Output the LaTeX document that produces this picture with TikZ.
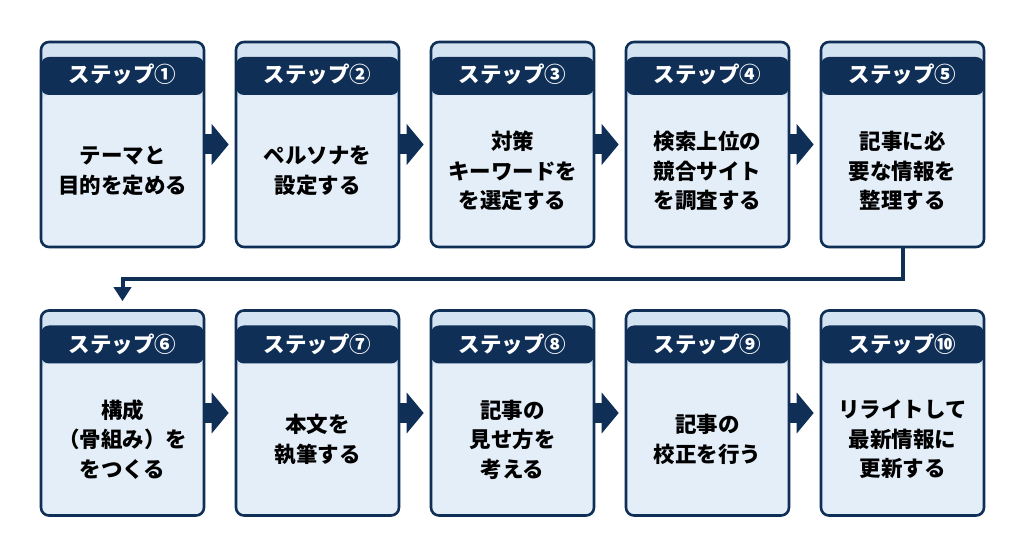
\documentclass[tikz,border=0pt]{standalone}
\usepackage{fontspec}
\newfontfamily\jpfont{Noto Sans CJK JP}
\usetikzlibrary{arrows.meta,positioning}
\definecolor{navy}{HTML}{0F2F57}
\definecolor{bodyblue}{HTML}{E4EEF8}
\definecolor{stripblue}{HTML}{D4E3F2}
\tikzset{
  stepbox/.style={draw=navy,line width=2.6pt,fill=stripblue,rounded corners=8pt,
    minimum width=163pt,minimum height=205pt,inner sep=0pt,
    path picture={
      \fill[bodyblue] (path picture bounding box.south west) rectangle ([yshift=-53pt]path picture bounding box.north east);
      \fill[navy] ([yshift=-15pt]path picture bounding box.north west) rectangle ([yshift=-53pt]path picture bounding box.north east);
    }},
  headtext/.style={text=white,inner sep=0pt,font=\jpfont\bfseries\fontsize{21.5}{24}\selectfont},
  steptext/.style={align=center,inner sep=0pt,text=black,font=\jpfont\bfseries\fontsize{21.5}{29.5}\selectfont},
  blockarr/.style={draw=navy,line width=20pt,-{Triangle[length=17pt,width=40pt]}},
  linkarr/.style={draw=navy,line width=4pt,-{Triangle[length=14pt,width=17pt]}}
}

\begin{document}
\begin{tikzpicture}[x=1pt,y=1pt]
\path[fill=white,use as bounding box] (0,0) rectangle (1024,559);
% upper row
\foreach \i/\num/\txt in {1/①/{テーマと\\目的を定める},2/②/{ペルソナを\\設定する},3/③/{対策\\キーワードを\\を選定する},4/④/{検索上位の\\競合サイト\\を調査する},5/⑤/{記事に必\\要な情報を\\整理する}}{
  \node[stepbox] (s\i) at ({122.5+195*(\i-1)},414.5) {};
  \node[headtext] (h\i) at ([yshift=-34pt]s\i.north) {ステップ\num};
  \node[steptext] (t\i) at ([yshift=-26.5pt]s\i.center) {\txt};
}
% lower row
\foreach \i/\num/\txt in {6/⑥/{構成\\（骨組み）を\\をつくる},7/⑦/{本文を\\執筆する},8/⑧/{記事の\\見せ方を\\考える},9/⑨/{記事の\\校正を行う},10/⑩/{リライトして\\最新情報に\\更新する}}{
  \node[stepbox] (s\i) at ({122.5+195*(\i-6)},146) {};
  \node[headtext] (h\i) at ([yshift=-35pt]s\i.north) {ステップ\num};
  \node[steptext] (t\i) at ([yshift=-26.5pt]s\i.center) {\txt};
}
\foreach \a/\b in {1/2,2/3,3/4,4/5,6/7,7/8,8/9,9/10}
  \draw[blockarr] (s\a.east) -- ([xshift=-6pt]s\b.west);
\draw[linkarr] (s5.south) -- ++(0,-31) -| ([yshift=8pt]s6.north);
\end{tikzpicture}
\end{document}
